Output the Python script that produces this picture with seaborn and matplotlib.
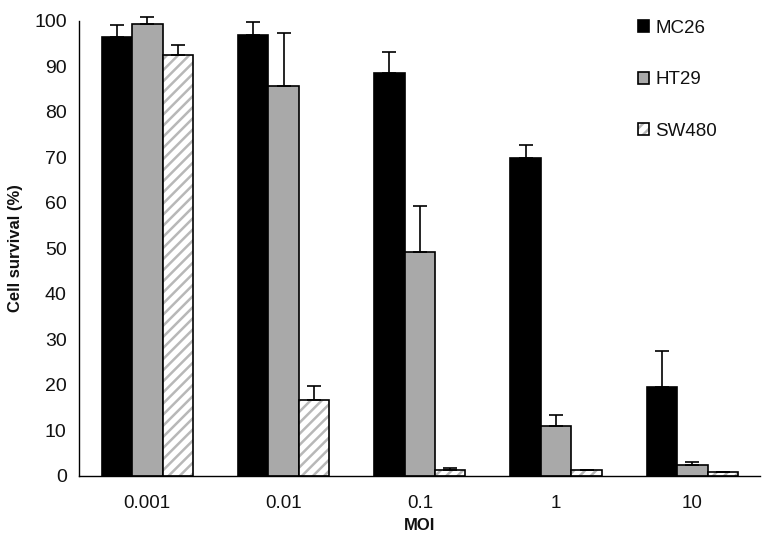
import numpy as np
import pandas as pd
import matplotlib
matplotlib.use("Agg")
import matplotlib.pyplot as plt
import seaborn as sns
from matplotlib.patches import Patch

# Dữ liệu
moi = ["0.001", "0.01", "0.1", "1", "10"]
lines = ["MC26", "HT29", "SW480"]
mc26 = [96.5, 96.9, 88.5, 69.9, 19.6]
ht29 = [99.3, 85.8, 49.3, 11.0, 2.3]
sw480 = [92.5, 16.6, 1.2, 1.2, 0.9]
mc26_err = [2.6, 2.9, 4.7, 2.9, 7.9]
ht29_err = [1.6, 11.6, 10.1, 2.3, 0.7]
sw480_err = [2.2, 3.2, 0.6, 0.0, 0.0]

values = [mc26, ht29, sw480]
errors = [mc26_err, ht29_err, sw480_err]
df = pd.DataFrame({
    "MOI": moi * 3,
    "Line": np.repeat(lines, len(moi)),
    "Survival": mc26 + ht29 + sw480,
})

sns.set_style("white")
plt.rcParams['font.family'] = ['Liberation Sans', 'DejaVu Sans']
plt.rcParams['hatch.linewidth'] = 1.8
plt.rcParams['text.color'] = '#111111'
plt.rcParams['axes.labelcolor'] = '#111111'

fig = plt.figure(figsize=(7.76, 5.52), dpi=100)
ax = fig.add_axes([0.102, 0.138, 0.878, 0.824])

colors = ["#000000", "#a9a9a9", "#ffffff"]
hatch_gray = (0.72, 0.72, 0.72, 1.0)
sns.barplot(data=df, x="MOI", y="Survival", hue="Line", palette=colors,
            width=0.67, gap=0, edgecolor="black", linewidth=1.2,
            errorbar=None, legend=False, ax=ax)

# Gạch chéo cho SW480
for p in ax.containers[2]:
    p.set_hatch("///")
    p._hatch_color = hatch_gray

# Thanh sai số (chỉ phía trên)
for cont, vals, errs in zip(ax.containers, values, errors):
    xs = [p.get_x() + p.get_width() / 2 for p in cont]
    eb = ax.errorbar(xs, vals, yerr=[np.zeros(len(errs)), errs], fmt="none",
                     ecolor="black", elinewidth=1.2, capsize=5, capthick=1.2, zorder=3)
    for art in eb.lines[1] + eb.lines[2]:
        art.set_clip_on(False)

ax.set_ylim(0, 100)
ax.set_xlim(-0.5, 4.5)
ax.set_yticks(range(0, 101, 10))
ax.set_xticks(range(5))
ax.set_xticklabels(moi)
ax.set_xticks(np.arange(-0.5, 5, 1), minor=True)
ax.tick_params(axis="x", which="major", length=0, pad=14, labelsize=13.5, labelcolor="#111111")
ax.tick_params(axis="x", which="minor", length=6, width=1, color="black", direction="out")
ax.tick_params(axis="y", length=5, width=1, color="black", direction="out", labelsize=14,
               pad=4, labelcolor="#111111")
for s in ["top", "right"]:
    ax.spines[s].set_visible(False)
for s in ["left", "bottom"]:
    ax.spines[s].set_color("black")
    ax.spines[s].set_linewidth(1)

ax.set_xlabel("MOI", fontsize=12, fontweight="bold", labelpad=4)
ax.set_ylabel("Cell survival (%)", fontsize=12, fontweight="bold", labelpad=8)

handles = [Patch(facecolor=c, edgecolor="black", linewidth=1.2) for c in colors]
handles[2].set_hatch("///")
handles[2]._hatch_color = hatch_gray
ax.legend(handles, lines, loc="upper left", bbox_to_anchor=(0.795, 1.04), frameon=False,
          fontsize=13.5, handlelength=0.6, handleheight=0.6, handletextpad=0.35,
          labelspacing=1.85)

fig.savefig("out.png", dpi=100)
